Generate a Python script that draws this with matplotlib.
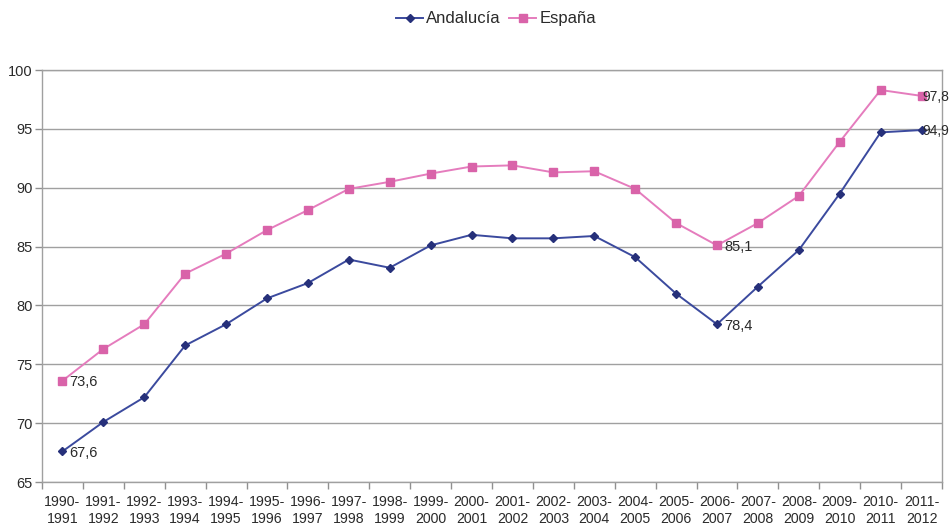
import matplotlib
matplotlib.use("Agg")
import matplotlib.pyplot as plt
from matplotlib.ticker import FixedLocator, NullFormatter

plt.rcParams['font.family'] = ['Liberation Sans', 'DejaVu Sans']

categories = ["1990-\n1991", "1991-\n1992", "1992-\n1993", "1993-\n1994", "1994-\n1995",
              "1995-\n1996", "1996-\n1997", "1997-\n1998", "1998-\n1999", "1999-\n2000",
              "2000-\n2001", "2001-\n2002", "2002-\n2003", "2003-\n2004", "2004-\n2005",
              "2005-\n2006", "2006-\n2007", "2007-\n2008", "2008-\n2009", "2009-\n2010",
              "2010-\n2011", "2011-\n2012"]

andalucia = [67.6, 70.1, 72.2, 76.6, 78.4, 80.6, 81.9, 83.9, 83.2, 85.1, 86.0,
             85.7, 85.7, 85.9, 84.1, 81.0, 78.4, 81.6, 84.7, 89.5, 94.7, 94.9]
espana = [73.6, 76.3, 78.4, 82.7, 84.4, 86.4, 88.1, 89.9, 90.5, 91.2, 91.8,
          91.9, 91.3, 91.4, 89.9, 87.0, 85.1, 87.0, 89.3, 93.9, 98.3, 97.8]

labels_and = {0: "67,6", 16: "78,4", 21: "94,9"}
labels_esp = {0: "73,6", 16: "85,1", 21: "97,8"}

yticks = [65, 70, 75, 80, 85, 90, 95, 100]

fig = plt.figure(figsize=(9.51, 5.25), dpi=100)
ax = fig.add_axes([42/951, 1 - 482/525, 900/951, 412/525])

x = list(range(len(categories)))
ax.plot(x, andalucia, color='#3B4A9E', lw=1.4, marker='D', ms=4.5,
        mfc='#26307A', mec='#26307A', label='Andalucía', zorder=3)
ax.plot(x, espana, color='#E57CBD', lw=1.4, marker='s', ms=6,
        mfc='#D963A9', mec='#D963A9', label='España', zorder=3)

txtc = '#2A2A2A'
last = len(categories) - 1
for series, labels in ((andalucia, labels_and), (espana, labels_esp)):
    for i, t in labels.items():
        dx = 0.5 if i == last else 5
        fs = 10 if i == last else 10.5
        ax.annotate(t, (x[i], series[i]), xytext=(dx, -1), textcoords='offset points',
                    ha='left', va='center', fontsize=fs, color=txtc, zorder=4,
                    annotation_clip=False)

ax.set_xlim(-0.5, len(categories) - 0.5)
ax.set_ylim(65, 100)
ax.set_yticks(yticks)
ax.set_yticklabels([str(v) for v in yticks], fontsize=10.5, color=txtc)
ax.yaxis.grid(True, color='#A0A0A0', lw=1)
ax.set_axisbelow(True)

ax.set_xticks(x)
ax.set_xticklabels(categories, fontsize=10.2, color=txtc, linespacing=1.35)
ax.tick_params(axis='x', which='major', length=0, pad=9)
ax.xaxis.set_minor_locator(FixedLocator([k - 0.5 for k in range(len(categories) + 1)]))
ax.xaxis.set_minor_formatter(NullFormatter())
ax.tick_params(axis='x', which='minor', length=5, color='#909090', width=1)
ax.tick_params(axis='y', length=5, color='#909090', width=1, pad=2)

for s in ['left', 'bottom', 'right', 'top']:
    ax.spines[s].set_color('#A0A0A0')
    ax.spines[s].set_linewidth(1)

leg = fig.legend(loc='center', bbox_to_anchor=(496/951, 1 - 19/525), ncol=2,
                 frameon=False, fontsize=12, handlelength=1.6, columnspacing=0.5,
                 handletextpad=0.2, labelcolor=txtc)

fig.savefig('out.png', dpi=100)
